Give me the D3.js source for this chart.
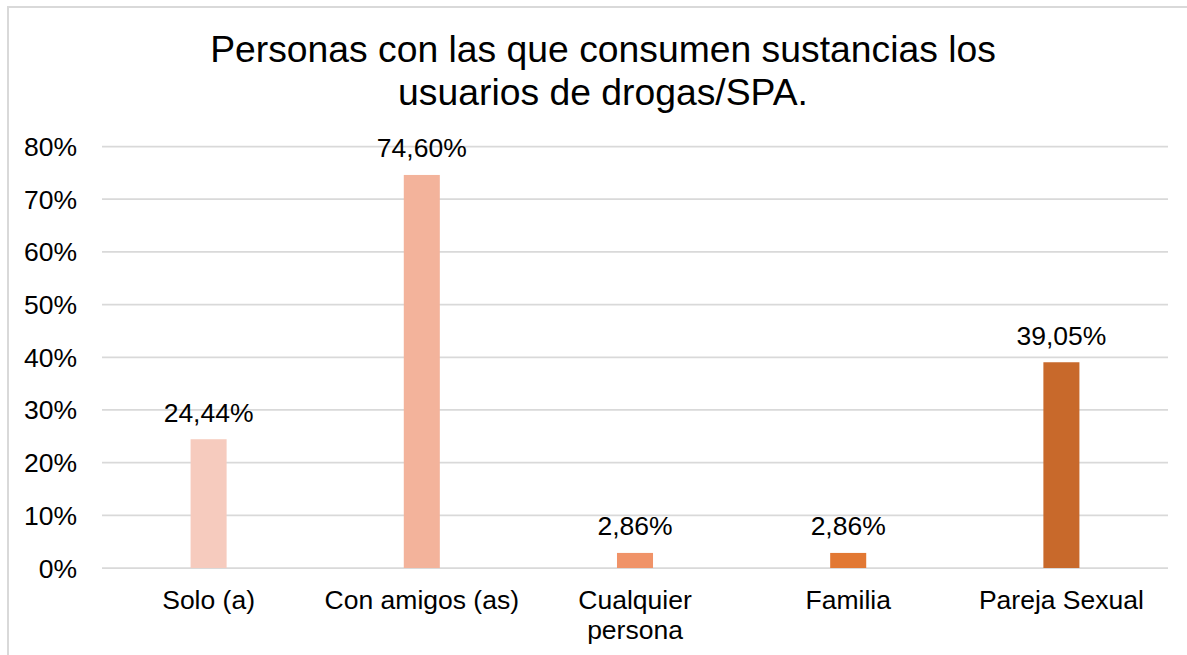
<!DOCTYPE html>
<html>
<head>
<meta charset="utf-8">
<script src="https://cdn.jsdelivr.net/npm/d3@7/dist/d3.min.js"></script>
<style>
  html, body { margin: 0; padding: 0; background: #fff; }
  svg { display: block; font-family: "Liberation Sans", Arial, sans-serif; }
</style>
</head>
<body>
<svg id="chart" width="1187" height="655"></svg>
<script>
const titleLines = ["Personas con las que consumen sustancias los", "usuarios de drogas/SPA."];
const categories = [["Solo (a)"], ["Con amigos (as)"], ["Cualquier", "persona"], ["Familia"], ["Pareja Sexual"]];
const values = [24.44, 74.60, 2.86, 2.86, 39.05];
const valueLabels = ["24,44%", "74,60%", "2,86%", "2,86%", "39,05%"];
const barColors = ["#F6CBBE", "#F3B39B", "#F09368", "#E27833", "#C8692B"];
const yTicks = [0, 10, 20, 30, 40, 50, 60, 70, 80];

const svg = d3.select("#chart");

// outer frame (extends beyond viewport right/bottom)
svg.append("rect")
  .attr("x", 8).attr("y", 7)
  .attr("width", 1200).attr("height", 700)
  .attr("fill", "#fff")
  .attr("stroke", "#D9D9D9").attr("stroke-width", 2);

const margin = { left: 102, right: 1168, top: 146.5, bottom: 568 };

const x = d3.scaleBand()
  .domain(d3.range(categories.length))
  .range([margin.left, margin.right])
  .paddingInner(0.831).paddingOuter(0.4155);

const y = d3.scaleLinear().domain([0, 80]).range([margin.bottom, margin.top]);

// gridlines
svg.append("g").selectAll("line").data(yTicks).join("line")
  .attr("x1", margin.left).attr("x2", margin.right)
  .attr("y1", d => y(d)).attr("y2", d => y(d))
  .attr("stroke", "#D9D9D9").attr("stroke-width", 1.75);

const fs = 26.5;

// y axis labels
svg.append("g").selectAll("text").data(yTicks).join("text")
  .attr("x", 77).attr("y", d => y(d) + 9.5)
  .attr("text-anchor", "end")
  .attr("font-size", fs).attr("fill", "#000")
  .text(d => d + "%");

// bars
svg.append("g").selectAll("rect").data(values).join("rect")
  .attr("x", (d, i) => x(i))
  .attr("width", x.bandwidth())
  .attr("y", d => y(d))
  .attr("height", d => y(0) - y(d))
  .attr("fill", (d, i) => barColors[i]);

// value labels
svg.append("g").selectAll("text").data(values).join("text")
  .attr("x", (d, i) => x(i) + x.bandwidth() / 2)
  .attr("y", d => y(d) - 17.5)
  .attr("text-anchor", "middle")
  .attr("font-size", fs).attr("fill", "#000")
  .text((d, i) => valueLabels[i]);

// category labels
const catG = svg.append("g").selectAll("text").data(categories).join("text")
  .attr("text-anchor", "middle")
  .attr("font-size", fs).attr("fill", "#000")
  .attr("transform", (d, i) => `translate(${x(i) + x.bandwidth() / 2},0)`);
catG.selectAll("tspan").data(d => d).join("tspan")
  .attr("x", 0)
  .attr("y", (d, j) => 609 + j * 29.5)
  .text(d => d);

// title
svg.append("g").selectAll("text").data(titleLines).join("text")
  .attr("x", 603).attr("y", (d, i) => 62 + i * 43)
  .attr("text-anchor", "middle")
  .attr("font-size", 37.3).attr("fill", "#000")
  .text(d => d);
</script>
</body>
</html>
